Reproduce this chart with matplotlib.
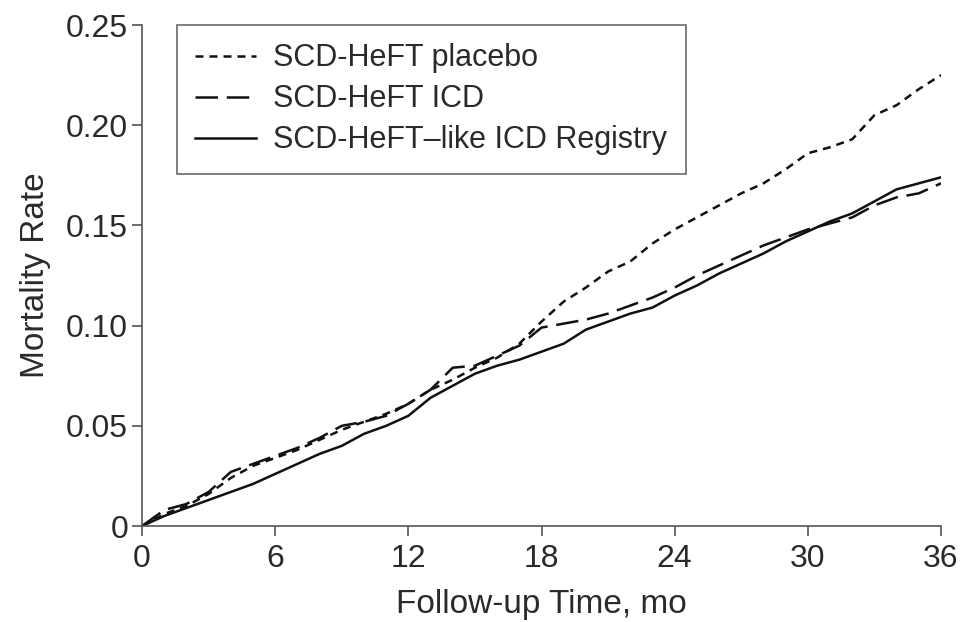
import matplotlib.pyplot as plt
from matplotlib.lines import Line2D

plt.rcParams['font.family'] = ['Liberation Sans', 'DejaVu Sans']

# Follow-up months (shared grid) and mortality rates
months = [0, 1, 2, 3, 4, 5, 6, 7, 8, 9, 10, 11, 12, 13, 14, 15, 16, 17, 18,
          19, 20, 21, 22, 23, 24, 25, 26, 27, 28, 29, 30, 31, 32, 33, 34, 35, 36]

placebo = [0, 0.006, 0.010, 0.016, 0.024, 0.030, 0.034, 0.038, 0.043, 0.048,
           0.052, 0.056, 0.061, 0.068, 0.073, 0.079, 0.084, 0.091, 0.102,
           0.112, 0.119, 0.127, 0.132, 0.141, 0.148, 0.154, 0.160, 0.166,
           0.171, 0.178, 0.186, 0.189, 0.193, 0.205, 0.210, 0.218, 0.225]

icd = [0, 0.008, 0.011, 0.017, 0.027, 0.031, 0.035, 0.039, 0.044, 0.050,
       0.052, 0.055, 0.061, 0.068, 0.079, 0.080, 0.085, 0.090, 0.099,
       0.101, 0.103, 0.106, 0.110, 0.114, 0.119, 0.125, 0.130, 0.135,
       0.140, 0.144, 0.148, 0.151, 0.154, 0.160, 0.164, 0.166, 0.171]

registry = [0, 0.005, 0.009, 0.013, 0.017, 0.021, 0.026, 0.031, 0.036, 0.040,
            0.046, 0.050, 0.055, 0.064, 0.070, 0.076, 0.080, 0.083, 0.087,
            0.091, 0.098, 0.102, 0.106, 0.109, 0.115, 0.120, 0.126, 0.131,
            0.136, 0.142, 0.147, 0.152, 0.156, 0.162, 0.168, 0.171, 0.174]

labels = ['SCD-HeFT placebo', 'SCD-HeFT ICD', 'SCD-HeFT\u2013like ICD Registry']
x_ticks = [0, 6, 12, 18, 24, 30, 36]
y_ticks = [0, 0.05, 0.10, 0.15, 0.20, 0.25]
y_ticklabels = ['0', '0.05', '0.10', '0.15', '0.20', '0.25']

ink = '#111111'
axis_gray = '#555555'
text_color = '#2a2a2a'
short_dash = (0, (3.2, 2.4))
long_dash = (0, (9, 3.5))

fig = plt.figure(figsize=(9.61, 6.22), dpi=100)
ax = fig.add_axes([0.1478, 0.1543, 0.8314, 0.8055])

ax.plot(months, placebo, color=ink, lw=1.8, linestyle=short_dash)
ax.plot(months, icd, color=ink, lw=1.8, linestyle=long_dash)
ax.plot(months, registry, color=ink, lw=1.8, linestyle='-')

ax.set_xlim(0, 36)
ax.set_ylim(0, 0.25)
ax.set_xticks(x_ticks)
ax.set_yticks(y_ticks)
ax.set_yticklabels(y_ticklabels)

for side in ['top', 'right']:
    ax.spines[side].set_visible(False)
for side in ['left', 'bottom']:
    ax.spines[side].set_color(axis_gray)
    ax.spines[side].set_linewidth(1.2)

ax.tick_params(direction='out', length=7, width=1.2, color=axis_gray,
               labelsize=23, labelcolor=text_color)
ax.tick_params(axis='x', pad=6)
ax.tick_params(axis='y', pad=3)

ax.set_xlabel('Follow-up Time, mo', fontsize=24, color=text_color, labelpad=11)
ax.set_ylabel('Mortality Rate', fontsize=24, color=text_color, labelpad=11)

handles = [
    Line2D([], [], color=ink, lw=1.8, linestyle=short_dash),
    Line2D([], [], color=ink, lw=1.8, linestyle=long_dash),
    Line2D([], [], color=ink, lw=1.8, linestyle='-'),
]
leg = ax.legend(handles, labels, loc='upper left', bbox_to_anchor=(0.0438, 1.0),
                borderaxespad=0, fontsize=22, frameon=True, fancybox=False,
                handlelength=2.0, handletextpad=0.55, labelspacing=0.36,
                borderpad=0.6)
leg.get_frame().set_edgecolor('#444444')
leg.get_frame().set_linewidth(1.2)
for t in leg.get_texts():
    t.set_color(text_color)

fig.savefig('out.png', dpi=100)
